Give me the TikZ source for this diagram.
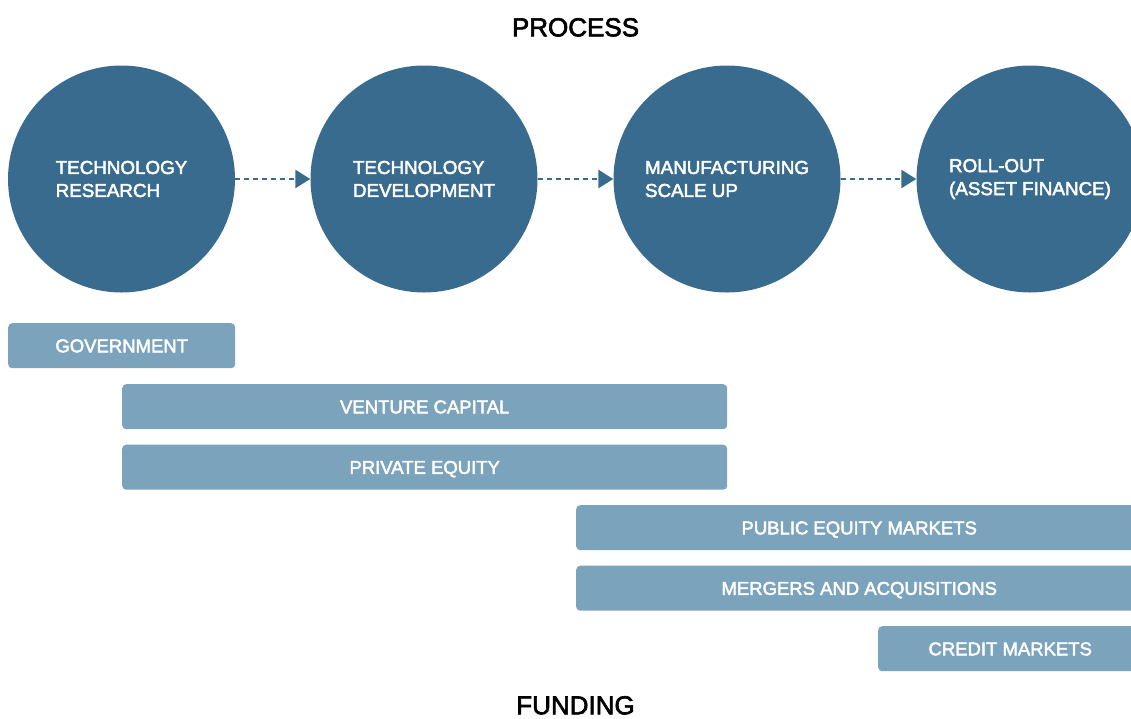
\documentclass[tikz,border=0pt]{standalone}
\usepackage{fontspec}
\setmainfont{Liberation Sans}[FakeBold=2.5]
\usetikzlibrary{arrows.meta}
\definecolor{darkblue}{HTML}{386B8E}
\definecolor{lightblue}{HTML}{7BA3BC}
\begin{document}
\begin{tikzpicture}[x=1pt,y=-1pt,
  stage/.style={circle, fill=darkblue, minimum size=227pt, inner sep=0pt, text=white,
    align=left, font=\fontsize{18.8}{23}\selectfont},
  flow/.style={draw=darkblue, line width=2.6pt, dash pattern=on 5pt off 4pt,
    -{Triangle[length=15pt,width=18pt]}},
  fund/.style={fill=lightblue, rounded corners=4pt, anchor=north west, minimum height=45pt,
    inner sep=0pt, text=white, font=\fontsize{18.5}{22}\selectfont, text height=13.2pt, text depth=0pt},
  heading/.style={font=\fontsize{26}{30}\selectfont, text height=18.6pt, text depth=0pt, inner sep=0pt}]
\useasboundingbox (0,0) rectangle (1131,718);
\clip (0,0) rectangle (1131,718);
\node[heading] (process) at (575.5,27) {PROCESS};
\node[heading] (funding) at (575.5,705) {FUNDING};
\node[stage] (c1) at (121.5,179) {TECHNOLOGY\\RESEARCH};
\node[stage] (c2) at (424,179) {TECHNOLOGY\\DEVELOPMENT};
\node[stage] (c3) at (727,179) {MANUFACTURING\\SCALE UP};
\node[stage] (c4) at (1030,179) {ROLL-OUT\\(ASSET FINANCE)};
\draw[flow] (c1.east) -- (c2.west);
\draw[flow] (c2.east) -- (c3.west);
\draw[flow] (c3.east) -- (c4.west);
\node[fund, minimum width=227pt] (gov) at (8,323) {GOVERNMENT};
\node[fund, minimum width=605pt] (vc) at (122,384) {VENTURE CAPITAL};
\node[fund, minimum width=605pt] (pe) at (122,444.5) {PRIVATE EQUITY};
\node[fund, minimum width=566pt] (pub) at (576,505) {PUBLIC EQUITY MARKETS};
\node[fund, minimum width=566pt] (ma) at (576,565.5) {MERGERS AND ACQUISITIONS};
\node[fund, minimum width=264pt] (cm) at (878,626) {CREDIT MARKETS};
\end{tikzpicture}
\end{document}
